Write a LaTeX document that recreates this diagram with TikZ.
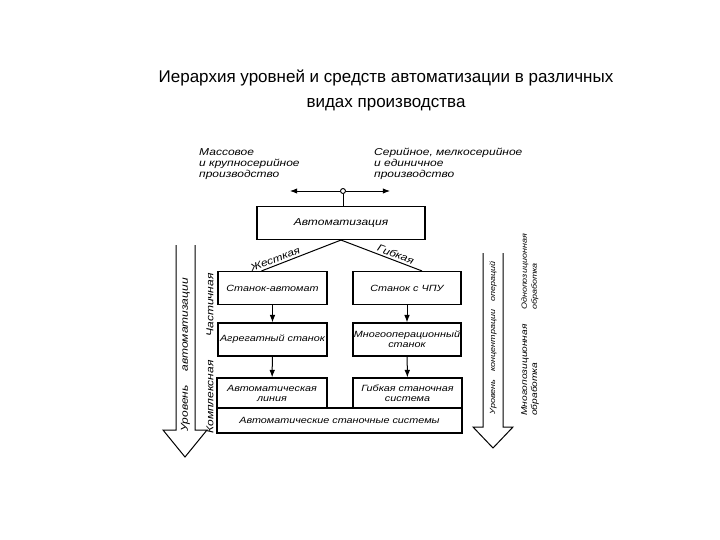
\documentclass[tikz,border=0pt]{standalone}
\usepackage{fontspec}
\setmainfont{Liberation Sans}
\newfontfamily\scanfont[FakeStretch=1.2]{Liberation Sans}
\usetikzlibrary{arrows.meta,positioning}

\begin{document}
\begin{tikzpicture}[>=Latex,x=1pt,y=-1pt,
box/.style={draw,line width=1.1pt,inner sep=0.5pt,align=center,
  font=\scanfont\itshape\fontsize{9}{10}\selectfont},
lbl/.style={inner sep=0pt,align=left,
  font=\scanfont\itshape\fontsize{10}{11}\selectfont},
small/.style={font=\scanfont\itshape\fontsize{7.5}{10}\selectfont},
bigarrow/.style={line width=1pt,line join=miter}]
\useasboundingbox (0,0) rectangle (720,540);

\node[align=center,font=\fontsize{17}{25}\selectfont] (title) at (386,90)
{Иерархия уровней и средств автоматизации в различных\\видах производства};

\node[lbl,anchor=north west] (mass) at (199,148)
{Массовое\\и крупносерийное\\производство};
\node[lbl,anchor=north west] (seri) at (374,148)
{Серийное, мелкосерийное\\и единичное\\производство};

\node[circle,draw,line width=0.9pt,inner sep=0pt,minimum size=5pt,fill=white] (hub) at (343,191) {};
\coordinate (hubL) at (290,191);
\coordinate (hubR) at (390,191);
\draw[->,line width=0.9pt] (hub) -- (hubL);
\draw[->,line width=0.9pt] (hub) -- (hubR);

\node[box,minimum width=168pt,minimum height=33pt,font=\scanfont\itshape\fontsize{10}{11}\selectfont] (auto) at (341,223) {Автоматизация};
\draw[line width=1pt] (hub) -- (hub |- auto.north);

\node[box,minimum width=109pt,minimum height=33pt] (sa) at (272.5,288) {Станок-автомат};
\node[box,minimum width=108pt,minimum height=33pt] (chpu) at (407,288) {Станок с ЧПУ};
\node[box,minimum width=109pt,minimum height=33pt] (agr) at (272.5,339.5) {Агрегатный станок};
\node[box,minimum width=108pt,minimum height=33pt] (mno) at (407,339.5) {Многооперационный\\станок};
\node[box,minimum width=110pt,minimum height=30pt] (line) at (272,393) {Автоматическая\\линия};
\node[box,minimum width=109pt,minimum height=30pt] (gss) at (407.5,393) {Гибкая станочная\\система};
\node[box,minimum width=245pt,minimum height=25pt] (ass) at (339.5,420.5) {Автоматические станочные системы};

\draw[line width=1pt] ([xshift=-11pt]sa.north) -- node[lbl,sloped,above=2pt,pos=0.2] {Жесткая} (auto.south);
\draw[line width=1pt] (auto.south) -- node[lbl,sloped,above=2pt,pos=0.65] {Гибкая} ([xshift=15pt]chpu.north);

\draw[->,line width=1pt] (sa) -- (agr);
\draw[->,line width=1pt] (chpu) -- (mno);
\draw[->,line width=1pt] (agr) -- (line);
\draw[->,line width=1pt] (mno) -- (gss);

% left big arrow
\draw[bigarrow] (176,245) -- (176,430) -- (163,430) -- (185,457) -- (207,430) -- (195,430) -- (195,245);
\node[lbl,rotate=90] (lvla) at (185.5,355) {Уровень\hspace{14pt}автоматизации};
\node[lbl,rotate=90] (part) at (210,305) {Частичная};
\node[lbl,rotate=90] (kompl) at (210,397) {Комплексная};

% right big arrow
\draw[bigarrow] (483,253) -- (483,427) -- (473,427) -- (493,448) -- (513,427) -- (503,427) -- (503,253);
\node[lbl,small,rotate=90] (lvlk) at (493,338) {Уровень\hspace{8pt}концентрации\hspace{8pt}операций};
\node[lbl,small,rotate=90] (odno) at (530,272) {Однопозиционная\\обработка};
\node[lbl,small,rotate=90,font=\scanfont\itshape\fontsize{8.5}{10}\selectfont] (mnog) at (530,370) {Многопозиционная\\обработка};
\end{tikzpicture}
\end{document}
